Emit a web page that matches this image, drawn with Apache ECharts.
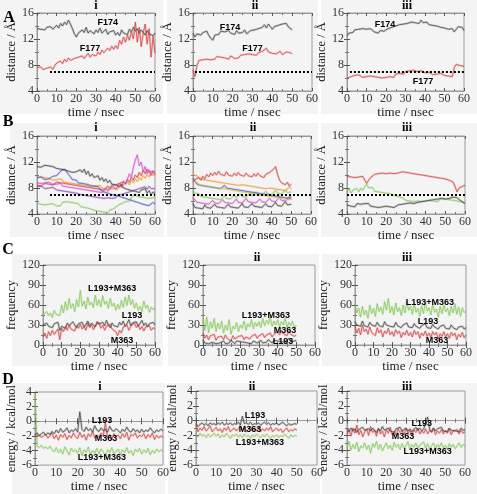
<!DOCTYPE html>
<html><head><meta charset="utf-8">
<script src="https://cdn.jsdelivr.net/npm/echarts/dist/echarts.min.js"></script>
<style>html,body{margin:0;padding:0;background:#fff}#c{width:477px;height:494px}</style>
</head><body><div id="c"></div>
<script>
// ---------- data (one value per ns) ----------
const xTicks = [0,10,20,30,40,50,60];
// Panel A
const aiF174 = [13.6,13.8,13.5,13.7,13.4,13.8,13.6,13.9,13.5,13.8,
 14.1,13.7,14.4,14.0,14.6,14.2,14.9,14.3,13.6,12.8,
 12.3,12.9,12.6,13.4,13.0,13.8,12.9,13.3,13.6,12.8,
 13.4,13.0,13.7,12.9,13.2,13.5,12.7,13.1,12.8,13.3,
 12.6,13.0,12.5,13.4,12.9,13.2,12.7,13.5,13.1,13.8,
 13.2,13.6,12.9,13.4,13.0,12.6,13.3,12.8,13.1,12.5,12.9];
const aiF177 = [7.6,7.4,7.7,7.3,7.6,7.5,7.4,7.7,7.3,7.9,
 8.3,8.0,8.6,8.2,8.9,8.5,9.1,8.7,8.4,9.0,
 8.7,9.2,8.9,9.4,9.0,9.3,9.8,9.2,9.6,9.9,
 9.4,10.0,9.6,10.3,9.9,10.1,10.6,10.2,10.9,10.4,
 11.0,10.5,11.8,11.2,12.3,11.5,12.6,11.8,13.2,12.0,
 14.6,11.5,13.8,10.8,12.9,14.3,11.2,13.6,9.2,12.4,9.8];
const aiiF174 = [12.9,12.3,12.8,13.1,12.6,13.0,12.7,13.2,12.5,12.4,
 11.8,12.6,12.9,12.7,13.2,12.9,13.1,12.8,13.3,12.9,
 13.0,12.7,13.3,12.9,13.2,13.0,13.4,12.8,13.1,13.3,
 13.0,13.4,13.2,13.6,13.3,13.8,14.2,13.7,14.3,13.9,
 13.5,13.9,13.6,14.1,13.8,14.3,14.0,14.4,13.9,13.6,13.4];
const aiiF177 = [7.2,6.2,7.9,8.7,9.0,8.8,9.1,8.9,9.2,8.8,
 9.1,8.9,9.3,9.0,9.2,9.4,9.1,9.3,8.9,9.4,
 9.2,9.0,9.3,9.1,9.5,9.3,9.6,9.4,9.7,9.5,
 9.6,9.8,9.5,9.9,9.7,10.1,10.4,10.6,10.0,10.2,
 9.8,10.0,9.7,9.9,10.1,9.6,9.8,10.0,9.7,9.9,9.7];
const aiiiF174 = [12.5,12.9,13.2,13.0,13.4,13.1,13.5,13.2,13.6,13.3,
 13.5,13.2,13.6,13.3,13.1,13.4,12.9,13.3,13.5,13.2,
 13.4,13.6,13.3,13.8,13.6,14.0,13.7,14.2,13.9,14.3,
 14.1,14.4,14.2,14.6,14.3,14.5,14.7,14.4,14.9,14.5,
 14.3,14.6,14.2,14.4,14.1,14.3,14.0,14.2,13.8,14.0,
 13.7,13.9,13.5,13.3,13.6,13.1,13.4,13.9,13.6,13.8,13.3];
const aiiiF177 = [6.0,5.8,6.2,6.1,6.4,6.2,6.5,6.3,6.1,6.4,
 6.2,6.0,6.3,6.5,6.2,6.4,6.1,6.3,6.0,6.2,
 6.1,5.9,6.2,6.4,6.1,6.6,6.4,6.7,6.9,6.6,
 7.0,6.8,7.1,6.9,7.2,7.4,7.0,6.8,7.1,6.9,
 6.8,6.6,6.9,6.7,6.5,6.8,6.6,6.4,6.7,6.5,
 6.4,6.6,6.3,6.5,6.2,7.6,8.1,8.4,7.9,8.2,7.8];
// Panel B
const biBlack = [11.3,11.4,11.2,11.3,11.5,11.2,11.4,11.1,11.3,11.2,
 11.0,11.3,10.9,11.2,10.8,11.0,10.6,10.9,10.4,10.7,
 10.5,10.2,10.8,10.4,10.9,10.1,10.6,9.8,10.2,9.6,
 9.4,9.9,9.2,9.6,9.0,9.4,8.8,9.2,8.6,8.9,
 8.5,8.8,8.2,8.6,8.0,8.3,7.8,8.1,7.6,7.9,
 7.5,7.8,7.3,7.7,7.4,7.9,7.2,7.6,7.0,7.4,7.1];
const biBlue = [9.6,9.4,9.7,9.5,9.3,9.6,9.4,9.5,9.8,9.6,
 9.9,10.2,10.6,10.3,10.9,10.5,10.1,9.7,9.3,9.0,
 9.2,8.8,9.1,8.7,9.0,8.6,8.9,8.4,8.7,8.3,
 8.6,8.2,7.9,7.5,7.8,7.3,7.6,7.1,7.4,6.9,
 7.2,6.8,7.0,6.6,6.9,6.4,6.7,6.2,6.5,6.0,
 6.3,5.8,6.1,5.6,5.9,5.4,5.7,5.3,5.6,5.8,5.5];
const biMagenta = [8.8,8.9,8.7,9.0,8.8,8.6,8.9,8.7,8.5,8.8,
 8.6,8.4,8.7,8.3,8.6,8.2,8.5,8.1,8.4,8.0,
 8.3,7.9,8.2,7.8,8.1,7.7,8.0,7.6,7.9,7.5,
 7.8,7.4,7.7,7.3,7.6,7.9,7.5,8.0,7.7,8.2,
 7.8,8.3,8.7,8.2,9.0,8.6,9.4,10.2,9.6,11.2,
 12.3,13.1,11.4,12.0,10.5,11.3,10.2,10.8,9.9,10.6,10.4];
const biOrange = [9.6,9.4,9.7,9.5,9.6,9.3,9.5,9.4,9.2,9.5,
 9.3,9.0,9.4,9.1,8.9,9.2,8.8,9.1,8.7,8.9,
 8.6,8.9,8.5,8.8,8.4,8.7,8.3,8.6,8.2,8.5,
 8.3,8.1,8.4,8.0,8.3,7.9,8.2,7.8,8.1,7.9,
 8.2,7.8,8.4,8.0,8.6,8.3,8.9,8.5,9.2,8.8,
 9.4,9.0,9.6,9.2,9.9,9.5,10.1,9.7,10.3,9.9,10.2];
const biRed = [8.4,8.6,8.3,8.5,8.7,8.4,8.6,8.8,8.5,8.7,
 8.9,8.6,8.8,8.5,8.7,8.4,8.6,8.3,8.5,8.2,
 8.4,8.1,8.3,8.0,8.2,7.9,8.1,7.8,8.0,7.7,
 7.9,8.2,7.8,8.1,7.7,8.0,8.3,7.9,8.4,8.1,
 8.5,8.2,8.7,8.4,9.0,8.6,9.3,8.9,9.6,9.2,
 10.0,9.6,10.4,9.9,10.7,10.2,10.9,10.4,10.1,10.6,10.0];
const biPurple = [8.2,8.0,8.3,8.1,7.9,8.2,8.0,7.8,8.1,7.9,
 7.7,8.0,7.6,7.9,7.5,7.8,7.4,7.7,7.3,7.6,
 7.2,7.5,7.0,7.3,6.9,7.2,6.8,7.1,6.7,7.0,
 6.6,6.9,6.5,6.8,6.4,6.7,6.5,6.8,6.4,6.7,
 6.5,6.9,6.6,7.0,6.7,7.2,6.9,7.4,7.1,7.6,
 7.3,7.8,7.5,8.0,7.7,8.2,7.8,8.3,7.9,8.1,7.9];
const biGreen = [5.7,5.8,5.5,5.7,5.4,5.6,5.5,5.3,5.6,5.4,
 5.2,5.5,5.3,5.8,6.1,5.9,6.2,5.8,5.5,5.7,
 5.4,5.6,5.2,5.4,5.0,5.3,4.9,5.1,4.7,4.9,
 4.5,4.7,4.4,4.6,4.3,4.5,4.2,4.6,4.4,4.8,
 5.0,5.3,5.1,5.6,5.4,5.9,6.2,6.0,6.5,6.8,
 7.1,6.7,7.0,6.6,6.9,6.5,6.8,6.4,6.7,6.5,6.6];
const biiRed = [8.9,9.3,9.0,9.6,9.2,9.8,9.4,10.1,9.7,10.3,
 9.9,10.4,10.0,10.6,10.1,10.3,9.9,10.5,10.0,10.2,
 9.8,10.3,9.9,10.4,10.0,10.2,9.8,10.3,9.9,10.1,
 9.7,10.2,9.8,10.3,9.9,10.0,9.6,10.1,9.8,10.4,
 10.2,10.9,11.3,10.1,9.2,8.8,9.1,8.5,8.9,8.3,8.6];
const biiOrange = [10.0,9.7,9.9,9.5,9.7,9.3,9.6,9.2,9.5,9.1,
 9.4,9.0,9.3,8.9,9.2,8.8,9.1,8.7,9.0,8.6,
 8.9,8.5,8.8,8.4,8.7,8.5,8.8,8.4,8.7,8.3,
 8.6,8.2,8.5,8.1,8.4,8.0,8.3,7.9,8.2,8.0,
 8.3,7.9,8.2,7.8,8.1,7.7,8.0,7.6,7.9,8.2,7.8];
const biiYellow = [9.0,8.7,8.9,8.5,8.8,8.4,8.7,8.3,8.6,8.2,
 8.5,8.1,8.4,8.0,8.3,7.9,8.2,7.8,8.1,7.7,
 8.0,7.6,7.9,7.5,7.8,7.4,7.7,7.3,7.6,7.2,
 7.5,7.1,7.4,7.0,7.3,6.9,7.2,6.8,7.1,6.7,
 7.0,6.6,6.9,6.5,6.8,6.4,6.7,6.3,6.6,6.2,6.5];
const biiBlue = [9.5,9.0,8.6,8.9,8.4,8.7,8.3,8.6,8.2,8.5,
 8.1,8.4,8.0,8.3,7.9,8.2,8.4,8.0,8.3,7.9,
 8.2,7.8,8.1,7.7,8.0,7.6,7.9,7.5,7.8,7.4,
 7.7,7.3,7.6,7.2,7.5,7.1,7.4,7.0,7.3,6.9,
 7.2,6.8,7.1,6.7,7.0,6.6,6.9,6.5,6.8,6.4,6.7];
const biiGreen = [7.6,7.2,6.9,7.1,6.7,7.0,6.6,6.9,6.5,6.8,
 6.4,6.7,6.3,6.6,6.2,6.5,6.8,6.4,6.7,6.3,
 6.6,6.9,6.5,6.8,7.1,6.7,7.0,6.6,6.9,7.2,
 6.8,7.1,7.4,7.0,7.3,6.9,7.2,7.5,7.1,7.4,
 7.0,7.3,7.6,7.2,7.5,7.1,7.4,7.7,7.3,7.6,7.4];
const biiMagenta = [6.5,6.2,5.8,6.1,5.7,6.0,5.6,5.9,5.5,5.8,
 6.1,5.7,6.0,5.6,5.9,6.2,5.8,6.1,5.7,6.0,
 5.6,5.9,6.3,5.8,6.1,5.7,6.0,6.4,5.9,6.2,
 5.8,6.1,5.7,6.0,6.3,5.9,6.2,5.8,6.1,6.4,
 6.0,6.3,5.9,6.2,6.6,6.1,6.4,6.0,6.3,6.7,6.2];
const biiBlack = [5.6,5.0,5.3,4.9,5.2,4.8,5.4,5.0,5.3,4.9,
 5.2,5.5,5.1,5.4,5.0,5.3,4.9,5.2,5.5,5.1,
 5.4,5.0,5.3,4.9,5.2,5.6,5.1,5.4,5.0,5.3,
 5.6,5.2,5.5,5.1,5.4,5.0,5.3,5.6,5.2,5.5,
 5.1,5.4,5.8,5.3,5.6,5.2,5.5,5.9,5.4,5.7,5.5];
const biiiRed = [9.8,10.1,9.7,10.0,9.6,9.9,9.7,10.0,9.8,9.6,
 8.7,9.2,9.6,9.9,10.1,9.8,10.2,9.9,10.3,10.0,
 10.2,9.9,10.3,10.0,10.2,9.9,10.3,10.1,10.5,10.7,
 10.4,10.6,10.3,10.5,10.2,10.4,10.1,10.3,10.0,10.2,
 9.9,10.1,9.8,10.0,9.7,9.9,9.6,9.8,9.5,9.7,
 9.4,9.6,9.2,9.4,8.9,8.6,7.4,8.0,7.7,8.3,8.4];
const biiiGreen = [7.4,7.9,7.2,7.7,7.5,7.9,7.4,8.0,7.6,8.2,
 8.6,8.0,7.7,8.1,7.5,7.8,7.4,7.7,7.3,7.6,
 7.2,7.5,7.1,7.4,6.9,7.2,6.7,6.9,6.5,6.3,
 6.1,6.4,6.0,6.3,5.9,6.2,6.0,6.3,5.9,6.2,
 6.0,6.3,6.1,6.4,6.0,6.2,5.9,6.2,6.4,6.1,
 6.3,6.0,6.2,5.9,6.1,5.8,6.0,5.7,5.9,5.6,5.8];
const biiiBlack = [5.4,5.7,5.2,5.5,5.1,5.6,5.3,5.5,5.2,5.6,
 5.3,5.6,5.2,5.5,5.1,5.4,5.0,5.3,5.1,5.4,
 5.2,5.5,5.1,5.3,5.0,5.2,5.4,5.1,5.5,5.3,
 5.6,5.3,5.7,5.4,5.6,5.5,5.8,5.6,5.9,5.7,
 6.0,5.7,6.1,5.8,6.2,5.9,6.3,6.0,6.4,6.1,
 6.3,6.0,6.4,6.2,6.6,6.3,6.5,6.2,6.0,5.7,5.6];
// Panel C
const ciBoth = [45,42,50,44,48,41,52,46,49,44,
 60,48,65,52,70,55,62,50,68,57,
 82,58,66,54,72,60,64,56,75,59,
 68,57,74,61,66,55,70,58,63,52,
 61,54,67,56,72,59,75,60,68,55,
 63,52,58,50,66,55,60,49,57,53,55];
const ciL193 = [30,27,33,28,31,26,32,29,34,22,
 28,31,25,33,29,27,35,30,26,32,
 29,34,27,31,36,28,33,30,27,35,
 31,28,34,29,37,30,26,33,29,31,
 27,34,30,36,28,32,38,29,33,30,
 35,28,31,37,29,33,27,32,30,34,30];
const ciM363 = [12,18,10,20,14,22,16,19,24,8,
 25,20,28,22,30,24,27,21,29,25,
 31,24,28,22,33,26,30,23,29,27,
 34,25,30,22,28,26,31,24,27,20,
 14,22,18,27,24,30,22,28,25,33,
 26,30,23,28,21,27,24,29,22,26,24];
const ciiBoth = [38,22,42,18,35,25,40,20,33,24,
 36,18,30,22,38,16,28,24,34,20,
 30,25,36,22,32,27,38,24,34,28,
 35,26,40,29,37,31,42,28,36,30,
 38,27,35,30,40,26,34,29,36,25,30];
const ciiM363 = [18,10,15,8,14,11,16,7,12,9,
 13,8,15,10,12,6,14,9,11,13,
 10,14,8,12,15,9,13,11,16,10,
 14,12,17,11,15,13,18,12,16,14,
 20,15,22,17,19,14,21,16,18,13,15];
const ciiL193 = [8,3,6,2,5,4,7,2,5,3,
 4,6,2,5,3,7,4,2,6,3,
 5,2,4,7,3,5,2,6,4,3,
 5,7,3,6,4,8,5,3,7,4,
 6,9,5,8,4,7,10,5,8,6,7];
const ciiiBoth = [62,48,55,42,58,45,52,40,60,47,
 55,43,62,50,57,46,65,52,70,48,
 58,45,63,50,56,44,60,48,66,52,
 58,46,62,49,55,43,59,47,64,51,
 56,45,61,49,54,42,58,47,60,50,
 55,44,58,48,62,46,57,43,56,49,50];
const ciiiL193 = [35,30,33,28,36,29,32,27,34,30,
 31,28,34,29,32,27,35,30,33,28,
 31,27,34,29,32,26,30,28,33,27,
 30,26,32,28,31,25,29,27,32,26,
 29,25,31,27,30,24,28,26,30,25,
 28,24,30,26,29,23,27,25,28,24,26];
const ciiiM363 = [28,18,25,15,30,20,24,16,27,19,
 22,14,26,18,23,12,21,17,25,15,
 20,13,23,17,21,11,19,15,22,14,
 19,12,22,16,20,10,18,14,21,13,
 18,11,20,15,19,9,17,13,20,12,
 17,10,19,14,18,8,16,12,19,11,15];
// Panel D
const diBoth = [3.8,-3.4,-3.6,-3.3,-3.7,-3.5,-3.8,-3.4,-3.9,-4.2,
 -3.6,-4.3,-3.8,-4.5,-3.5,-4.1,-4.6,-3.7,-4.2,-3.9,
 -4.4,-3.6,-4.7,-3.9,-4.3,-3.5,-4.6,-4.0,-4.4,-3.7,
 -4.5,-3.8,-4.2,-4.8,-3.9,-4.3,-3.6,-4.5,-4.1,-3.8,
 -4.6,-3.9,-4.3,-3.6,-4.4,-4.0,-4.7,-3.8,-4.2,-3.7,
 -4.5,-3.9,-4.3,-3.7,-4.6,-4.0,-4.4,-3.8,-4.2,-3.9,-4.1];
const diL193 = [-1.9,-1.6,-2.0,-1.7,-1.5,-1.9,-1.6,-1.8,-1.4,-1.7,
 -1.2,-1.6,-1.0,-1.5,-1.3,-0.9,-1.6,-1.2,-1.4,-1.0,
 -1.5,1.3,-1.1,-1.4,-0.8,-1.3,-1.0,-1.5,-0.6,-1.2,
 -1.4,-0.9,-1.3,-1.1,-1.5,-0.7,-1.2,-1.4,-1.0,-1.3,
 -1.6,-1.1,-1.4,-0.8,-1.3,-1.5,-1.0,-1.4,-1.2,-1.6,
 -1.1,-1.5,-1.2,-1.4,-0.9,-1.3,-1.6,-1.2,-1.4,-1.1,-1.3];
const diM363 = [-1.8,-2.1,-1.9,-2.2,-2.0,-1.8,-2.3,-2.0,-1.6,-2.4,
 -1.9,-2.6,-1.8,-2.2,-1.7,-2.5,-1.9,-2.3,-1.6,-2.1,
 -2.4,-1.5,-2.2,-1.8,-2.6,-1.7,-2.1,-1.4,-2.3,-1.9,
 -2.2,-1.6,-2.0,-0.2,-2.3,-1.8,-2.5,-1.7,-2.1,-1.9,
 -2.4,-1.7,-2.2,-1.5,-2.6,-1.8,-2.0,-1.6,-2.3,-1.9,
 -2.1,-1.7,-2.4,-1.8,-2.2,-1.6,-2.5,-1.9,-2.3,-2.0,-2.2];
const diiL193 = [-0.4,-0.8,-0.5,-0.3,-0.6,-0.4,-0.7,-0.3,-0.5,-0.4,
 -0.6,-0.3,-0.5,-0.2,-0.6,-0.4,-0.5,-0.3,-0.6,-0.4,
 -0.5,-0.2,-0.6,0.6,-0.4,-0.3,-0.5,-0.2,-0.6,-0.4,
 -0.5,-0.3,-0.6,-0.4,-0.2,-0.5,-0.3,-0.6,-0.4,-0.5,
 -0.3,-0.6,-0.4,-0.2,-0.5,-0.7,-0.4,-0.6,-0.5,-0.4,-0.5];
const diiM363 = [-0.6,-1.5,-1.0,-1.3,-0.8,-1.4,-1.1,-0.7,-1.5,-1.2,
 -0.9,-1.4,-1.1,-1.6,-1.0,-1.3,-0.8,-1.5,-1.2,-1.0,
 -1.4,-1.1,-0.7,-1.3,-1.0,-1.5,-1.2,-0.8,-1.4,-1.1,
 -1.3,-0.9,-1.5,-1.1,-1.4,-1.0,-1.3,-0.8,-1.5,-1.2,
 -1.0,-1.4,-1.1,-1.6,-1.2,-1.0,-1.5,-1.2,-1.4,-1.1,-1.3];
const diiBoth = [-1.8,-2.2,-1.7,-2.1,-1.9,-2.3,-1.8,-2.2,-2.0,-1.7,
 -2.1,-1.8,-2.3,-1.9,-2.2,-1.7,-2.0,-2.4,-1.9,-2.1,
 -1.8,-2.2,-1.9,-2.3,-1.8,-2.1,-2.0,-2.4,-1.9,-2.2,
 -1.8,-2.1,-2.3,-1.9,-2.2,-1.8,-2.1,-2.4,-2.0,-2.2,
 -1.9,-2.3,-2.0,-2.2,-1.8,-2.1,-2.4,-1.9,-2.2,-2.0,-2.1];
const diiiL193 = [-1.2,-1.5,-1.0,-1.4,-1.1,-1.6,-1.2,-1.4,-0.9,-1.3,
 -1.5,-1.1,-1.4,-1.0,-1.3,-1.6,-1.1,-1.4,-0.8,-1.3,
 -1.5,-1.0,-1.4,-1.2,-1.6,-1.1,-1.3,-0.9,-1.4,-1.2,
 -1.0,-1.4,-1.1,-1.5,-1.2,-0.9,-1.3,-1.0,-1.4,-1.1,
 -1.3,0.5,-1.2,-1.5,-1.0,-1.4,-1.1,-1.3,-0.9,-1.4,
 -1.2,-1.5,-1.0,-1.3,-1.1,-1.4,-1.2,-1.5,-1.0,-1.3,-1.2];
const diiiM363 = [-1.8,-1.2,-2.1,-1.0,-1.7,-0.6,-1.9,-1.3,-2.2,-1.5,
 -1.1,-2.0,-0.8,-1.6,-1.3,-2.1,-1.0,-1.8,-1.4,-2.2,
 -1.2,-1.7,-0.9,-1.9,-1.4,-2.0,-1.1,-1.6,-1.3,-1.9,
 -1.0,-1.7,-1.3,-1.9,-1.2,-1.6,-1.0,-1.8,-1.4,-1.7,
 -1.1,-1.8,-1.3,-1.6,-1.0,-1.9,-1.4,-1.7,-1.2,-1.8,
 -1.3,-1.7,-1.1,-1.9,-1.4,-1.6,-1.2,-1.8,-1.3,-1.7,-1.5];
const diiiBoth = [-3.6,-2.8,-4.0,-3.2,-3.8,-2.9,-4.2,-3.4,-3.7,-3.0,
 -3.9,-3.3,-4.4,-3.1,-3.6,-2.8,-3.9,-3.2,-4.1,-3.5,
 -3.0,-3.8,-3.3,-4.0,-2.9,-3.6,-3.2,-3.9,-3.1,-3.7,
 -3.4,-2.8,-3.9,-3.2,-3.6,-3.0,-3.8,-3.3,-3.5,-2.9,
 -3.7,-3.1,-3.9,-3.4,-3.0,-3.8,-3.2,-3.6,-3.0,-3.7,
 -3.3,-3.9,-3.1,-3.6,-3.2,-3.8,-3.4,-3.0,-3.6,-3.2,-3.5];

// ---------- styling ----------
const BLACK='#3c3c3c', RED='#d23a3a', GREEN='#80c650', BLUE='#4050c8', MAG='#d440cc',
      PUR='#8a3fb0', ORA='#f0902a', YEL='#d8c43a';
const SERIF="'Liberation Serif','DejaVu Serif',serif";
const SANS="'Liberation Sans',Arial,sans-serif";

const panels = [
 {g:[37,13,118,78], y:[4,16,4], yn:'distance / Å', gap:16, t:'i', tx:96, ty:6,
  s:[[aiF174,BLACK],[aiF177,RED]], ann:[['F174',36,14.5],['F177',27,10.5]], dot:6.6},
 {g:[193,13,119,78], y:[4,16,4], yn:'distance / Å', gap:12, t:'ii', tx:255, ty:6,
  s:[[aiiF174,BLACK],[aiiF177,RED]], ann:[['F174',18.7,13.8],['F177',30,10.6]], dot:1},
 {g:[347,13,117,78], y:[4,16,4], yn:'distance / Å', gap:12, t:'iii', tx:407, ty:6,
  s:[[aiiiF174,BLACK],[aiiiF177,RED]], ann:[['F174',19.5,14.3],['F177',39,5.5]], dot:1.5},
 {g:[37,136,118,78], y:[4,16,4], yn:'distance / Å', gap:11, t:'i', tx:96, ty:128,
  s:[[biGreen,GREEN],[biPurple,PUR],[biRed,RED],[biOrange,ORA],[biBlue,BLUE],[biMagenta,MAG],[biBlack,BLACK]], ann:[], dot:6.6},
 {g:[193,136,118,78], y:[4,16,4], yn:'distance / Å', gap:12, t:'ii', tx:253, ty:128,
  s:[[biiBlack,BLACK],[biiMagenta,MAG],[biiGreen,GREEN],[biiBlue,BLUE],[biiYellow,YEL],[biiOrange,ORA],[biiRed,RED]], ann:[], dot:0},
 {g:[347,136,118,78], y:[4,16,4], yn:'distance / Å', gap:12, t:'iii', tx:407, ty:128,
  s:[[biiiRed,RED],[biiiGreen,GREEN],[biiiBlack,BLACK]], ann:[], dot:0},
 {g:[43,265,112,80], y:[0,120,30], yn:'frequency', gap:19, t:'i', tx:100, ty:258,
  s:[[ciBoth,GREEN],[ciL193,BLACK],[ciM363,RED]], ann:[['L193+M363',37,84],['L193',47.7,44],['M363',42.3,6]]},
 {g:[203,265,112,80], y:[0,120,30], yn:'frequency', gap:19, t:'ii', tx:257, ty:258,
  s:[[ciiBoth,GREEN],[ciiM363,RED],[ciiL193,BLACK]], ann:[['L193+M363',33.7,44],['M363',43.9,21],['L193',42.9,4.5]]},
 {g:[355,265,111,80], y:[0,120,30], yn:'frequency', gap:19, t:'iii', tx:407, ty:258,
  s:[[ciiiBoth,GREEN],[ciiiL193,BLACK],[ciiiM363,RED]], ann:[['L193+M363',40.5,64],['L193',39.5,35.5],['M363',44.3,6]]},
 {g:[35,392,128,81], y:[-6,4,2], yn:'energy / kcal/mol', gap:15, t:'i', tx:100, ty:387,
  s:[[diBoth,GREEN],[diM363,RED],[diL193,BLACK]], ann:[['L193',31.4,0.05],['M363',33.3,-2.3],['L193+M363',31.4,-5.0]]},
 {g:[196,391,121,81], y:[-6,4,2], yn:'energy / kcal/mol', gap:16, t:'ii', tx:252, ty:387,
  s:[[diiBoth,GREEN],[diiM363,RED],[diiL193,BLACK]], ann:[['L193',29.3,0.7],['M363',26.8,-1.2],['L193+M363',31.7,-2.9]]},
 {g:[347,391,118,81], y:[-6,4,2], yn:'energy / kcal/mol', gap:16, t:'iii', tx:407, ty:387,
  s:[[diiiBoth,GREEN],[diiiM363,RED],[diiiL193,BLACK]], ann:[['L193',38,-0.4],['M363',28.5,-2.1],['L193+M363',41,-4.1]]}
];

const bgRects = [
 [0,0,163,114],[167,0,151,114],[321,0,156,114],
 [10,123,154,114],[167,123,151,114],[321,123,156,114],
 [12,254,151,112],[168,254,151,112],[322,254,155,112],
 [12,383,153,111],[168,383,152,111],[322,383,155,111]
];

const grid=[], xAxis=[], yAxis=[], series=[], graphic=[];
bgRects.forEach(r=>graphic.push({type:'rect',z:-100,silent:true,shape:{x:r[0],y:r[1],width:r[2],height:r[3]},style:{fill:'#f4f4f4'}}));
[['A',9,18],['B',8,122],['C',8,250],['D',8,380]].forEach(l=>graphic.push({type:'text',x:l[1],y:l[2],style:{text:l[0],font:'bold 16px '+SERIF,fill:'#000',align:'center',verticalAlign:'middle'}}));

const axisCol='#9a9a9a';
panels.forEach((p,k)=>{
  grid.push({left:p.g[0],top:p.g[1],width:p.g[2],height:p.g[3],show:true,borderColor:axisCol,borderWidth:1,backgroundColor:'transparent'});
  graphic.push({type:'text',x:p.tx,y:p.ty,style:{text:p.t,font:'bold 12px '+SERIF,fill:'#000',align:'center',verticalAlign:'middle'}});
  xAxis.push({gridIndex:k,type:'value',min:0,max:60,interval:10,position:'bottom',
    name:'time / nsec',nameLocation:'middle',nameGap:10,nameTextStyle:{fontFamily:SERIF,fontSize:13,color:'#222',verticalAlign:'top'},
    axisLine:{lineStyle:{color:axisCol}},axisTick:{inside:true,length:3,lineStyle:{color:'#555'}},
    minorTick:{show:true,splitNumber:2,length:2,lineStyle:{color:'#777'}},
    axisLabel:{margin:2,fontFamily:SERIF,fontSize:12,color:'#333'},splitLine:{show:false}});
  yAxis.push({gridIndex:k,type:'value',min:p.y[0],max:p.y[1],interval:p.y[2],position:'left',
    name:p.yn,nameLocation:'middle',nameGap:p.gap,nameRotate:90,nameTextStyle:{fontFamily:SERIF,fontSize:12.5,color:'#222'},
    axisLine:{lineStyle:{color:axisCol}},axisTick:{inside:true,length:3,lineStyle:{color:'#555'}},
    minorTick:{show:true,splitNumber:2,length:2,lineStyle:{color:'#777'}},
    axisLabel:{margin:3,fontFamily:SERIF,fontSize:12,color:'#333'},splitLine:{show:false}});
});
// frame axes (top/right ticks)
panels.forEach((p,k)=>{
  xAxis.push({gridIndex:k,type:'value',min:0,max:60,interval:10,position:'top',
    axisLine:{lineStyle:{color:axisCol}},axisTick:{inside:true,length:3,lineStyle:{color:'#555'}},
    minorTick:{show:true,splitNumber:2,length:2,lineStyle:{color:'#777'}},axisLabel:{show:false},splitLine:{show:false}});
  yAxis.push({gridIndex:k,type:'value',min:p.y[0],max:p.y[1],interval:p.y[2],position:'right',
    axisLine:{lineStyle:{color:axisCol}},axisTick:{inside:true,length:3,lineStyle:{color:'#555'}},
    minorTick:{show:true,splitNumber:2,length:2,lineStyle:{color:'#777'}},axisLabel:{show:false},splitLine:{show:false}});
});

panels.forEach((p,k)=>{
  p.s.forEach((sd,j)=>{
    const data = sd[0].map((v,i)=>[i,v]);
    series.push({type:'line',xAxisIndex:k,yAxisIndex:k,data,symbol:'none',silent:true,z:2,
      lineStyle:{color:sd[1],width:2.2,opacity:0.22}});
    series.push({type:'line',xAxisIndex:k,yAxisIndex:k,data,symbol:'none',silent:true,z:3,
      lineStyle:{color:sd[1],width:0.7}});
  });
  const extra = {type:'line',xAxisIndex:k,yAxisIndex:k,data:[],symbol:'none',silent:true,z:10};
  if (p.dot!==undefined) {
    extra.markLine={silent:true,symbol:['none','none'],label:{show:false},animation:false,
      lineStyle:{type:[2,2],color:'#000',width:2},
      data:[[{coord:[p.dot,7]},{coord:[60,7]}]]};
  }
  if (p.ann.length) {
    extra.markPoint={silent:true,symbol:'rect',symbolSize:1,itemStyle:{color:'rgba(0,0,0,0)'},animation:false,
      label:{show:true,position:'inside',formatter:'{b}',color:'#000',fontFamily:SANS,fontWeight:'bold',fontSize:9},
      data:p.ann.map(a=>({name:a[0],coord:[a[1],a[2]]}))};
  }
  series.push(extra);
});

const chart = echarts.init(document.getElementById('c'),null,{renderer:'canvas'});
chart.setOption({animation:false,backgroundColor:'#fff',grid,xAxis,yAxis,series,graphic});
</script></body></html>
